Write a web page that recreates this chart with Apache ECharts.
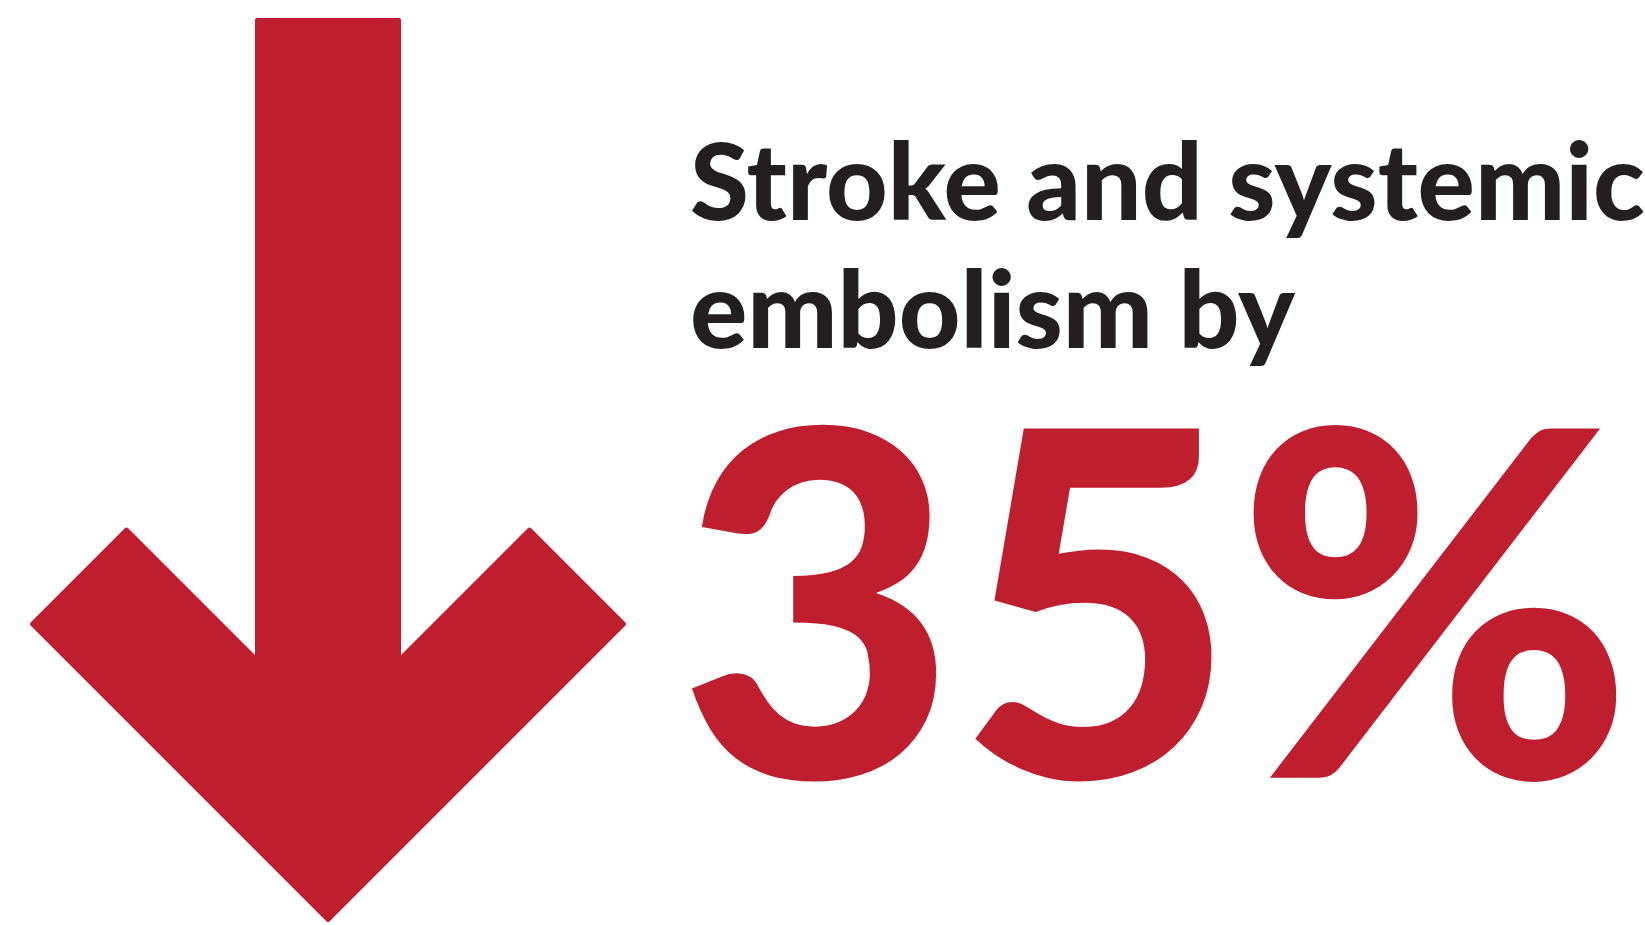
<!DOCTYPE html>
<html>
<head>
    <meta charset="utf-8">
    <title>Stroke and systemic embolism</title>
    <script src="https://cdn.jsdelivr.net/npm/echarts@6/dist/echarts.min.js"></script>
    <style>
        html, body { margin: 0; padding: 0; background: #fff; }
    </style>
</head>
<body>
    <div id="main" style="width: 1645px;height:925px;"></div>
    <script>
        // data
        var headlineLines = ['Stroke and systemic', 'embolism by'];
        var reductionValue = [35];
        var reductionUnit = '%';

        var red = '#BE1E2D';
        var ink = '#231F20';

        var myChart = echarts.init(document.getElementById('main'));

        // down arrow, built from a few layout numbers
        var arrowCx = 328, arrowTop = 20, tipY = 920, halfShaft = 71, span = 296, arm = 94.5;
        var leftTip = [arrowCx - span, tipY - span];
        var wingL = [leftTip[0] + arm, leftTip[1] - arm];
        var diag = wingL[1] - wingL[0];
        var innerL = [arrowCx - halfShaft, arrowCx - halfShaft + diag];
        function mirror(p) { return [2 * arrowCx - p[0], p[1]]; }
        var arrowPts = [
            [arrowCx - halfShaft, arrowTop], [arrowCx + halfShaft, arrowTop],
            mirror(innerL), mirror(wingL), mirror(leftTip),
            [arrowCx, tipY],
            leftTip, wingL, innerL
        ];

        var textFont = 'Lato, "Noto Sans", sans-serif';

        var option = {
            backgroundColor: '#fff',
            animation: false,
            graphic: [
                {
                    type: 'polygon',
                    shape: { points: arrowPts },
                    style: { fill: red, stroke: red, lineWidth: 4, lineJoin: 'round' }
                },
                {
                    type: 'text',
                    left: 690, top: 121,
                    style: {
                        text: headlineLines.join('\n'),
                        fill: ink,
                        font: '900 107px ' + textFont,
                        lineHeight: 128
                    }
                },
                {
                    type: 'text',
                    left: 678, top: 382,
                    style: {
                        text: reductionValue[0] + reductionUnit,
                        fill: red,
                        font: '900 481px ' + textFont
                    }
                }
            ]
        };
        myChart.setOption(option);
    </script>
</body>
</html>
